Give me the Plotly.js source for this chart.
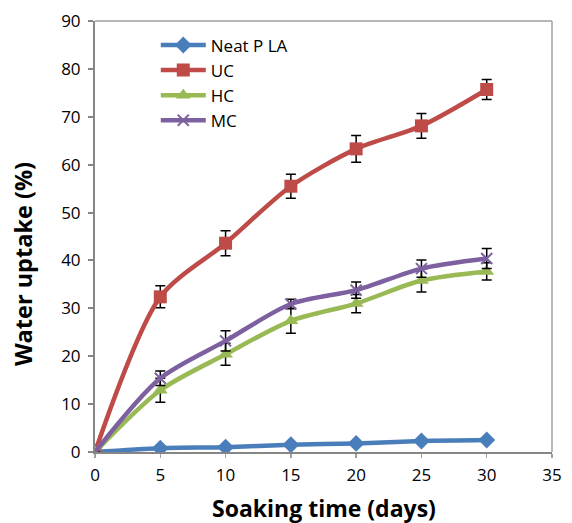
<!DOCTYPE html>
<html><head><meta charset="utf-8">
<script src="https://cdn.plot.ly/plotly-3.0.1.min.js"></script>
<style>body{margin:0;padding:0;background:#fff}#c{width:572px;height:523px}</style>
</head><body><div id="c"></div>
<script>
const days = [0, 5, 10, 15, 20, 25, 30];
const neatPLA = [0, 0.8, 1.0, 1.5, 1.8, 2.3, 2.5];
const uc = [0, 32.4, 43.6, 55.5, 63.3, 68.1, 75.7];
const ucErr = [0, 2.3, 2.6, 2.5, 2.8, 2.6, 2.1];
const hc = [0, 12.9, 20.4, 27.4, 31.0, 35.8, 37.7];
const hcErr = [0, 2.5, 2.3, 2.6, 1.9, 2.4, 1.8];
const mc = [0, 15.4, 23.2, 30.9, 33.8, 38.3, 40.4];
const mcErr = [0, 1.5, 2.1, 1.0, 1.7, 1.8, 2.1];
const seriesNames = ['Neat P LA', 'UC', 'HC', 'MC'];
const xTitle = 'Soaking time (days)';
const yTitle = 'Water uptake (%)';

function tr(name, y, err, color, symbol, size) {
  const t = {
    x: days, y: y, name: name, type: 'scatter', mode: 'lines+markers',
    line: {color: color, width: 4.5, shape: 'spline', smoothing: 0.8},
    marker: {color: color, symbol: symbol, size: size,
             line: symbol === 'x-thin' ? {color: color, width: 2} : {width: 0}}
  };
  if (err) t.error_y = {type: 'data', array: err, visible: true, color: '#000', thickness: 1.5, width: 5};
  return t;
}
const data = [
  tr(seriesNames[0], neatPLA, null, '#4a7ebb', 'diamond', 13),
  tr(seriesNames[1], uc, ucErr, '#be4b48', 'square', 13),
  tr(seriesNames[2], hc, hcErr, '#98b954', 'triangle-up', 13),
  tr(seriesNames[3], mc, mcErr, '#7d60a0', 'x-thin', 11)
];
const font = "'Open Sans', 'Liberation Sans', sans-serif";
const layout = {
  width: 572, height: 523,
  margin: {l: 95, r: 20, t: 21, b: 71, pad: 0},
  paper_bgcolor: '#fff', plot_bgcolor: '#fff',
  font: {family: font, size: 16, color: '#000'},
  showlegend: true,
  legend: {x: 0.133, y: 0.985, xanchor: 'left', yanchor: 'top',
           font: {family: font, size: 17, color: '#000'},
           bgcolor: 'rgba(0,0,0,0)', tracegroupgap: 0, itemwidth: 45},
  xaxis: {range: [0, 35], dtick: 5, tick0: 0, showgrid: false, zeroline: false,
          showline: true, linecolor: '#868686', linewidth: 2, mirror: false,
          ticks: 'outside', ticklen: 4, tickcolor: '#a0a0a0', tickwidth: 1.5,
          ticklabelstandoff: 3,
          tickfont: {family: font, size: 17}},
  yaxis: {range: [0, 90], dtick: 10, tick0: 0, showgrid: false, zeroline: false,
          showline: true, linecolor: '#868686', linewidth: 2,
          ticks: 'outside', ticklen: 5, tickcolor: '#868686', tickwidth: 2,
          ticklabelstandoff: 4,
          tickfont: {family: font, size: 17}},
  annotations: [
    {text: '<b>' + xTitle + '</b>', xref: 'paper', yref: 'paper', x: 0.5, y: -0.13,
     xanchor: 'center', yanchor: 'middle', showarrow: false, font: {family: font, size: 23}},
    {text: '<b>' + yTitle + '</b>', xref: 'paper', yref: 'paper', x: -0.1575, y: 0.436,
     xanchor: 'center', yanchor: 'middle', textangle: -90, showarrow: false, font: {family: font, size: 23.5}}
  ],
  shapes: [
    {type: 'line', xref: 'paper', yref: 'paper', x0: 0, x1: 1, y0: 1, y1: 1, line: {color: '#a0a0a0', width: 1.5}},
    {type: 'line', xref: 'paper', yref: 'paper', x0: 1, x1: 1, y0: 0, y1: 1, line: {color: '#a0a0a0', width: 1.5}}
  ]
};
Plotly.newPlot('c', data, layout, {displayModeBar: false, staticPlot: true});
</script></body></html>
